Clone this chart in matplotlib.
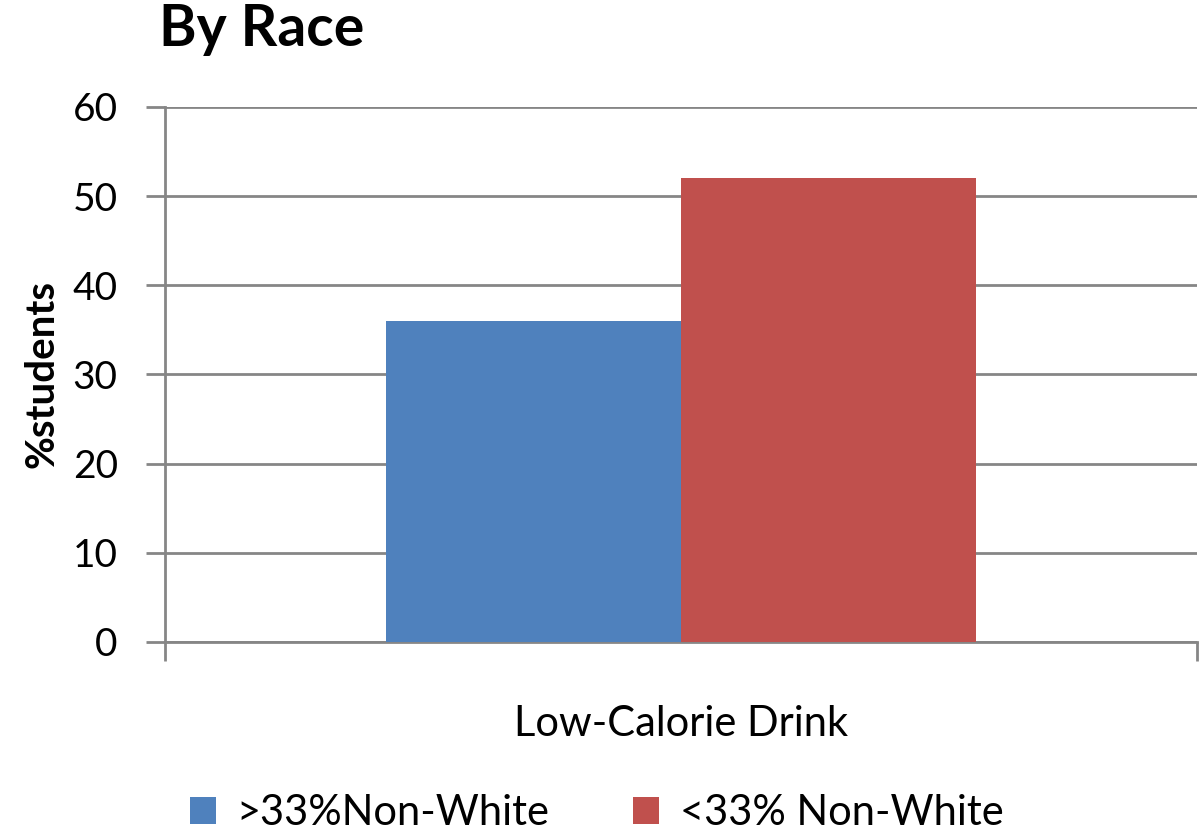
import numpy as np
import matplotlib
matplotlib.use("Agg")
import matplotlib.pyplot as plt

plt.rcParams['font.family'] = ['Lato', 'DejaVu Sans']

categories = ["Low-Calorie Drink"]
series_names = [">33%Non-White", "<33% Non-White"]
series_values = [[36], [52]]
colors = ["#4f81bd", "#c0504d"]
yticks = [0, 10, 20, 30, 40, 50, 60]

fig = plt.figure(figsize=(12.01, 8.32), dpi=100)
ax = fig.add_axes([0.1374, 0.2284, 0.8593, 0.643])

x = np.arange(len(categories))
w = 0.286
for i, (name, vals) in enumerate(zip(series_names, series_values)):
    ax.bar(x + (i - 0.5) * w, vals, width=w, color=colors[i], label=name, zorder=3)

ax.set_xlim(-0.5, 0.5)
ax.set_ylim(0, 60)
ax.set_yticks(yticks)
ax.set_yticklabels([str(v) for v in yticks], fontsize=28)
ax.yaxis.grid(True, color="#868686", linewidth=2, zorder=0)

ax.set_xticks([-0.5, 0.5])
ax.set_xticklabels(["", ""])
ax.tick_params(axis="x", length=14, width=2, color="#868686")
ax.tick_params(axis="y", length=14, width=2, color="#868686", pad=20)

for s in ["top", "right"]:
    ax.spines[s].set_visible(False)
for s in ["left", "bottom"]:
    ax.spines[s].set_color("#868686")
    ax.spines[s].set_linewidth(2)

ax.set_xlabel(categories[0], fontsize=30, labelpad=28)
ax.set_ylabel("%students", fontsize=29, fontweight="bold", labelpad=9)

fig.text(0.132, 0.965, "By Race", fontsize=41, fontweight="bold", va="center", ha="left")

fig.legend(loc="lower center", bbox_to_anchor=(0.497, -0.045), ncol=2, frameon=False,
           fontsize=30, handlelength=0.62, handleheight=0.62, columnspacing=2.0, handletextpad=0.5)

fig.savefig("out.png", dpi=100)
